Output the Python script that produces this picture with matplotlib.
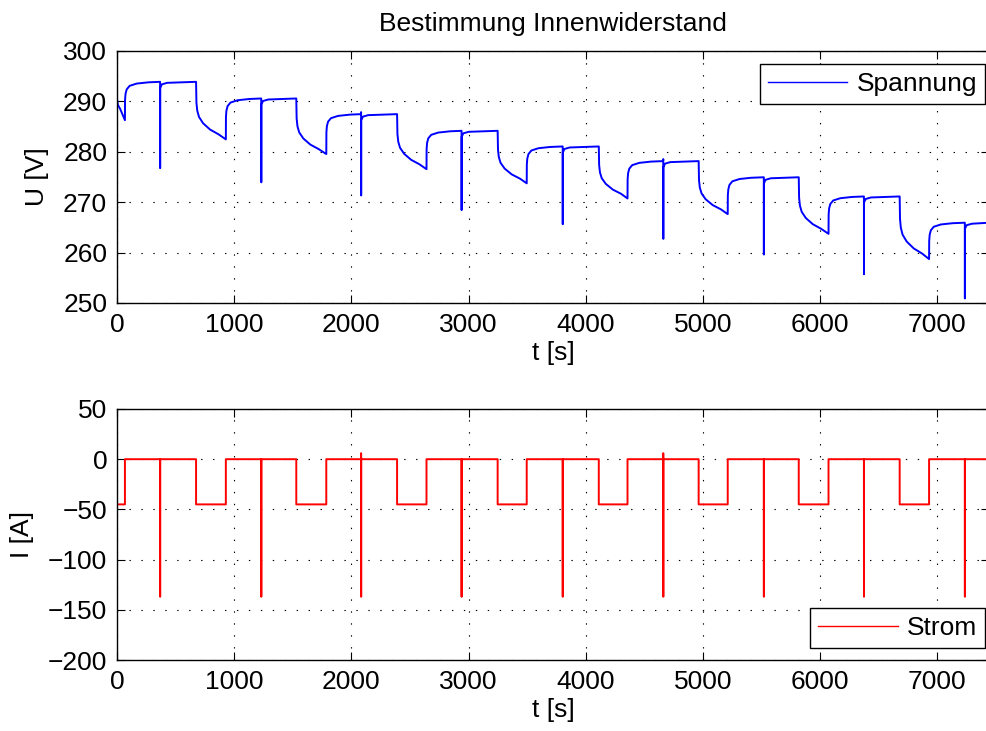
import numpy as np
import matplotlib
matplotlib.use("Agg")
import matplotlib.pyplot as plt

plt.rcParams['font.family'] = ['Liberation Sans', 'DejaVu Sans']
plt.rcParams['lines.scale_dashes'] = False

# cycle timing [s]
t_dis_start = [0, 675, 1530, 2390, 3248, 4111, 4963, 5817, 6678]
t_dis_end = [68, 929, 1786, 2641, 3496, 4356, 5211, 6071, 6929]
t_spike = [368, 1231, 2083, 2940, 3803, 4661, 5519, 6373, 7234]
t_last = 7440

# voltage levels [V]
u_rest = [293.8, 290.5, 287.4, 284.1, 281.0, 278.1, 274.9, 271.1, 265.9]
u_dis_end = [286.2, 282.4, 279.5, 276.5, 273.7, 270.7, 267.6, 263.7, 258.7]
u_spike = [276.7, 273.9, 271.3, 268.4, 265.6, 262.7, 259.6, 255.7, 250.9]
u_spike_up = [0, 0, 0.4, 0, 0, 0.4, 0, 0, 0]

# first pulse at t=0
t_first = [0, 1, 8, 26, 68]
u_first = [295.5, 290.2, 289.2, 288.5, 286.2]

# shape of one cycle (read from the 2nd cycle)
dis_dt = [0, 3, 10, 25, 60, 120, 190]
dis_frac = [0, 0.36, 0.5, 0.61, 0.72, 0.83, 0.91]
rec_dt = [1, 5, 15, 40, 100, 200]
rec_off = [-3.6, -2.4, -1.5, -0.8, -0.35, -0.1]
post_dt = [1, 15, 60]
post_off = [-1.2, -0.5, -0.2]

# current levels [A]
i_dis = -45
i_spike = -137
i_spike_up = [0, 0, 6, 0, 0, 6, 0, 0, 0]

FS = 19


def build_voltage():
    t, u = list(t_first), list(u_first)
    for k in range(len(t_dis_start)):
        if k > 0:
            top = u_rest[k - 1]
            drop = top - u_dis_end[k]
            for dt, f in zip(dis_dt, dis_frac):
                t.append(t_dis_start[k] + dt)
                u.append(top - f * drop)
            t.append(t_dis_end[k])
            u.append(u_dis_end[k])
        for dt, off in zip(rec_dt, rec_off):
            t.append(t_dis_end[k] + dt)
            u.append(u_rest[k] + off)
        t += [t_spike[k] - 1, t_spike[k], t_spike[k] + 0.5]
        u += [u_rest[k], u_rest[k] + u_spike_up[k], u_spike[k]]
        for dt, off in zip(post_dt, post_off):
            t.append(t_spike[k] + dt)
            u.append(u_rest[k] + off)
        t_next = t_dis_start[k + 1] if k + 1 < len(t_dis_start) else t_last
        t.append(t_next)
        u.append(u_rest[k])
    return np.array(t), np.array(u)


def build_current():
    t, i = [], []
    for k in range(len(t_dis_start)):
        t += [t_dis_start[k], t_dis_start[k], t_dis_end[k], t_dis_end[k]]
        i += [0, i_dis, i_dis, 0]
        t += [t_spike[k], t_spike[k], t_spike[k] + 0.5, t_spike[k] + 1]
        i += [0, i_spike_up[k], i_spike, 0]
    t.append(t_last)
    i.append(0)
    return np.array(t), np.array(i)


def style(ax):
    ax.grid(True, color='black', linestyle=(0, (1, 7.6)), linewidth=0.8)
    ax.tick_params(direction='in', length=6, width=0.8, top=True, right=True,
                   labelsize=FS, pad=7)
    for s in ax.spines.values():
        s.set_linewidth(1.0)
    ax.set_xlim(0, t_last)
    ax.set_xticks(range(0, 8000, 1000))


def add_legend(ax, loc, anchor):
    leg = ax.legend(loc=loc, bbox_to_anchor=anchor, fontsize=FS,
                    handlelength=3.0, fancybox=False, framealpha=1,
                    edgecolor='black', borderaxespad=0, handletextpad=0.35,
                    borderpad=0.3)
    leg.get_frame().set_linewidth(1.0)
    leg.get_lines()[0].set_linewidth(1.0)


def main():
    tu, u = build_voltage()
    ti, cur = build_current()

    fig = plt.figure(figsize=(9.87, 7.31), dpi=100)
    ax1 = fig.add_axes([0.1185, 0.5855, 0.8835, 0.3454])
    ax2 = fig.add_axes([0.1185, 0.0971, 0.8835, 0.3434])

    ax1.plot(tu, u, color='blue', linewidth=1.4, label='Spannung')
    ax1.set_ylim(250, 300)
    ax1.set_yticks(range(250, 301, 10))
    style(ax1)
    ax1.set_xlabel('t [s]', fontsize=FS, labelpad=3)
    ax1.set_ylabel('U [V]', fontsize=FS, labelpad=10)
    ax1.set_title('Bestimmung Innenwiderstand', fontsize=FS, pad=14)
    add_legend(ax1, 'upper right', (0.9954, 0.9465))

    ax2.plot(ti, cur, color='red', linewidth=1.4, label='Strom')
    ax2.set_ylim(-200, 50)
    ax2.set_yticks(range(-200, 51, 50))
    style(ax2)
    ax2.set_xlabel('t [s]', fontsize=FS, labelpad=3)
    ax2.set_ylabel('I [A]', fontsize=FS, labelpad=10)
    add_legend(ax2, 'lower right', (0.9954, 0.049))

    fig.savefig('out.png', dpi=100)


if __name__ == '__main__':
    main()
